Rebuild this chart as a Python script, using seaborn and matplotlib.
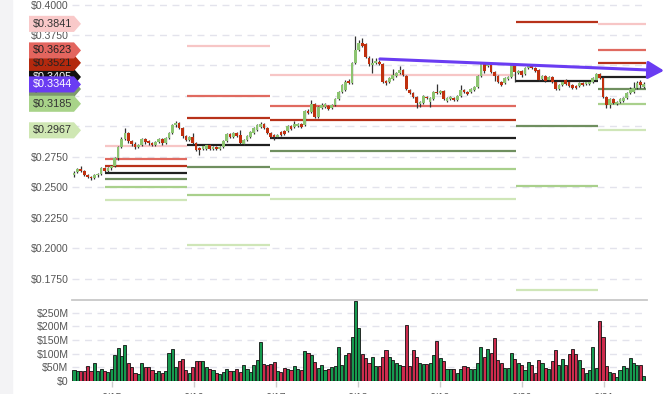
import numpy as np
import pandas as pd
import matplotlib
matplotlib.use("Agg")
import matplotlib.pyplot as plt
import matplotlib.transforms as mtrans
from matplotlib.patches import Polygon, Rectangle
import seaborn as sns

# hourly candles, prices in USD
opens = [
    .2600, .2625, .2650, .2633, .2600, .2584, .2576, .2600, .2608, .2658,
    .2633, .2658, .2674, .2740, .2830, .2896, .2945, .2879, .2855, .2830,
    .2847, .2896, .2879, .2863, .2847, .2871, .2896, .2863, .2904, .2945,
    .3011, .3027, .2986, .2920, .2888, .2912, .2863, .2822, .2814, .2814,
    .2847, .2814, .2830, .2814, .2830, .2879, .2937, .2912, .2945, .2929,
    .2855, .2888, .2912, .2945, .2970, .2994, .3019, .2986, .2945, .2929,
    .2912, .2953, .2962, .2962, .3003, .2994, .3003, .3019, .3011, .3126,
    .3118, .3183, .3076, .3150, .3159, .3167, .3150, .3175, .3224, .3282,
    .3298, .3372, .3356, .3520, .3627, .3684, .3676, .3561, .3503, .3520,
    .3528, .3512, .3372, .3364, .3388, .3413, .3438, .3462, .3413, .3298,
    .3274, .3241, .3183, .3191, .3241, .3200, .3224, .3282, .3274, .3290,
    .3208, .3224, .3232, .3216, .3249, .3298, .3282, .3282, .3298, .3323,
    .3413, .3520, .3495, .3512, .3446, .3413, .3364, .3356, .3388, .3405,
    .3503, .3438, .3454, .3429, .3479, .3503, .3479, .3462, .3388, .3413,
    .3380, .3405, .3364, .3306, .3339, .3380, .3364, .3339, .3331, .3331,
    .3356, .3347, .3347, .3364, .3380, .3429, .3397, .3241, .3175, .3224,
    .3183, .3200, .3208, .3232, .3274, .3282, .3315, .3364, .3323,
]
closes = [
    .2619, .2650, .2633, .2600, .2584, .2576, .2600, .2608, .2658, .2633,
    .2658, .2674, .2740, .2830, .2896, .2945, .2879, .2855, .2830, .2847,
    .2896, .2871, .2863, .2847, .2871, .2896, .2863, .2904, .2945, .3011,
    .3027, .2986, .2920, .2888, .2912, .2863, .2806, .2806, .2838, .2847,
    .2814, .2830, .2814, .2830, .2879, .2937, .2912, .2945, .2920, .2863,
    .2888, .2920, .2953, .2986, .3011, .3019, .2986, .2945, .2912, .2912,
    .2929, .2929, .2937, .3003, .2978, .3019, .3019, .2994, .3126, .3109,
    .3183, .3076, .3159, .3175, .3183, .3142, .3175, .3224, .3282, .3339,
    .3364, .3356, .3520, .3627, .3684, .3659, .3569, .3512, .3520, .3536,
    .3512, .3364, .3356, .3397, .3421, .3438, .3462, .3421, .3306, .3274,
    .3241, .3191, .3200, .3249, .3232, .3232, .3282, .3274, .3290, .3224,
    .3232, .3241, .3216, .3249, .3298, .3282, .3265, .3306, .3323, .3413,
    .3520, .3454, .3520, .3446, .3413, .3364, .3339, .3397, .3405, .3503,
    .3446, .3454, .3421, .3479, .3495, .3479, .3454, .3380, .3413, .3372,
    .3405, .3364, .3306, .3339, .3364, .3347, .3331, .3315, .3315, .3356,
    .3339, .3364, .3364, .3397, .3429, .3397, .3241, .3175, .3224, .3191,
    .3200, .3224, .3232, .3274, .3306, .3315, .3356, .3339, .3344,
]
highs = [
    .2633, .2658, .2674, .2641, .2608, .2592, .2608, .2617, .2666, .2666,
    .2666, .2682, .2748, .2838, .2912, .2986, .2953, .2888, .2871, .2855,
    .2904, .2904, .2888, .2871, .2879, .2904, .2904, .2912, .2953, .3019,
    .3044, .3035, .2994, .2929, .2920, .2945, .2871, .2830, .2847, .2855,
    .2855, .2838, .2838, .2838, .2888, .2945, .2945, .2953, .2953, .2970,
    .2896, .2929, .2962, .2994, .3019, .3035, .3027, .2994, .2953, .2937,
    .2937, .2962, .2970, .3011, .3011, .3044, .3027, .3027, .3134, .3142,
    .3216, .3191, .3167, .3191, .3191, .3175, .3183, .3232, .3290, .3347,
    .3380, .3388, .3528, .3741, .3709, .3725, .3684, .3577, .3561, .3561,
    .3544, .3520, .3380, .3405, .3471, .3446, .3495, .3471, .3421, .3306,
    .3282, .3249, .3208, .3257, .3249, .3241, .3290, .3347, .3298, .3298,
    .3241, .3249, .3241, .3257, .3339, .3306, .3290, .3315, .3331, .3421,
    .3528, .3528, .3528, .3520, .3454, .3421, .3372, .3405, .3413, .3512,
    .3512, .3462, .3462, .3487, .3503, .3512, .3487, .3471, .3421, .3421,
    .3413, .3413, .3372, .3347, .3372, .3388, .3372, .3347, .3339, .3364,
    .3364, .3372, .3372, .3405, .3438, .3438, .3405, .3249, .3232, .3232,
    .3208, .3232, .3241, .3282, .3323, .3364, .3372, .3380, .3364,
]
lows = [
    .2584, .2617, .2625, .2592, .2576, .2559, .2567, .2584, .2600, .2625,
    .2625, .2641, .2666, .2723, .2822, .2888, .2863, .2838, .2814, .2822,
    .2838, .2855, .2847, .2838, .2838, .2863, .2847, .2855, .2896, .2937,
    .2994, .2978, .2904, .2879, .2879, .2855, .2797, .2764, .2806, .2806,
    .2806, .2806, .2806, .2806, .2822, .2871, .2904, .2904, .2912, .2855,
    .2847, .2879, .2904, .2937, .2962, .2986, .2978, .2937, .2904, .2888,
    .2904, .2920, .2929, .2953, .2970, .2986, .2994, .2986, .3003, .3101,
    .3109, .3068, .3068, .3142, .3150, .3134, .3142, .3167, .3216, .3274,
    .3290, .3347, .3347, .3512, .3618, .3651, .3561, .3495, .3438, .3512,
    .3503, .3356, .3339, .3356, .3380, .3405, .3429, .3413, .3298, .3265,
    .3232, .3150, .3159, .3183, .3224, .3159, .3216, .3265, .3265, .3216,
    .3200, .3216, .3208, .3208, .3241, .3274, .3257, .3274, .3290, .3315,
    .3405, .3438, .3487, .3438, .3372, .3356, .3331, .3347, .3380, .3397,
    .3364, .3429, .3405, .3421, .3471, .3471, .3446, .3372, .3380, .3364,
    .3372, .3356, .3298, .3298, .3331, .3339, .3323, .3306, .3306, .3323,
    .3331, .3339, .3339, .3356, .3372, .3388, .3232, .3150, .3150, .3183,
    .3175, .3191, .3200, .3224, .3265, .3274, .3306, .3315, .3315,
]
# volume in millions of USD
volumes = [
    39, 34, 34, 34, 54, 34, 64, 34, 42, 35,
    32, 44, 93, 119, 92, 130, 64, 51, 29, 23,
    66, 49, 52, 39, 29, 37, 29, 34, 101, 115,
    51, 74, 79, 39, 29, 49, 71, 71, 71, 49,
    42, 39, 27, 23, 31, 42, 35, 37, 42, 31,
    57, 42, 31, 57, 75, 141, 60, 57, 63, 69,
    34, 31, 46, 42, 39, 53, 43, 39, 108, 101,
    93, 69, 46, 57, 39, 42, 49, 53, 125, 57,
    96, 101, 162, 294, 193, 97, 82, 64, 86, 53,
    53, 86, 112, 86, 75, 64, 57, 53, 204, 53,
    112, 86, 66, 60, 60, 66, 93, 145, 82, 71,
    42, 42, 42, 29, 42, 53, 49, 42, 42, 64,
    125, 86, 115, 101, 156, 75, 64, 46, 46, 101,
    79, 64, 57, 39, 69, 57, 27, 75, 64, 46,
    42, 71, 112, 57, 79, 57, 97, 115, 97, 75,
    46, 27, 39, 125, 46, 218, 160, 53, 32, 27,
    12, 39, 53, 46, 82, 64, 57, 57, 18,
]

# pivot levels per period (start, end in candle index)
seg_start = [9.1, 33.3, 57.8, 130.3, 154.5]
seg_end = [33.3, 57.8, 130.3, 154.5, 168.7]
r3 = [0.2841, 0.3662, 0.3419, np.nan, 0.3841]
r2 = [0.2732, 0.3251, 0.3165, np.nan, 0.3623]
r1 = [0.2677, 0.3068, 0.3052, 0.3860, 0.3521]
pp = [0.2619, 0.2844, 0.2906, 0.3374, 0.3405]
s1 = [0.2565, 0.2663, 0.2796, 0.3002, 0.3306]
s2 = [0.2504, 0.2437, 0.2652, 0.2510, 0.3185]
s3 = [0.2395, 0.2026, 0.2403, 0.1656, 0.2967]

trend_x = [90.2, 174.0]
trend_y = [0.3553, 0.3457]
last_price = 0.3344

tick_pos = [11.2, 35.4, 59.6, 83.8, 107.9, 132.1, 156.3]
tick_labels = ["6/15", "6/16", "6/17", "6/18", "6/19", "6/20", "6/21"]

sns.set_theme(style="white")
plt.rcParams["font.family"] = ["Liberation Sans", "DejaVu Sans"]

W, H = 664, 394
fig = plt.figure(figsize=(W / 100, H / 100), dpi=100)
fig.patches.append(Rectangle((0, 0), 12 / W, 1, transform=fig.transFigure,
                             color="#f3f3f5", zorder=0))

ax = fig.add_axes([72 / W, 95 / H, 575 / W, 299 / H])
vax = fig.add_axes([72 / W, 13 / H, 575 / W, 81 / H])

idx = np.arange(len(closes))
o = np.array(opens); c = np.array(closes)
up = c >= o
GRID = "#e3e3ec"
TXT = "#555555"

# --- price panel
ax.set_xlim(-0.59, 168.97)
ax.set_ylim(0.1582, 0.4037)
yt = np.arange(0.175, 0.40001, 0.025)
ax.set_yticks(yt)
# the labels at 0.30-0.35 sit under the price tags
ax.set_yticklabels(["" if 0.29 < v < 0.36 else f"${v:.4f}" for v in yt])
for v in yt:
    ax.axhline(v, color=GRID, lw=1, dashes=(5, 4), zorder=0)
ax.set_xticks([])
ax.tick_params(axis="y", length=0, pad=2.5, labelsize=7.6, labelcolor=TXT)
for s in ax.spines.values():
    s.set_visible(False)

level_cols = ["#f7c6c6", "#e06a60", "#b8321a", "#202020", "#6f8f5f", "#a9d08c", "#cfe6b8"]
for lv, col in zip([r3, r2, r1, pp, s1, s2, s3], level_cols):
    for a, b, v in zip(seg_start, seg_end, lv):
        if not np.isnan(v):
            ax.hlines(v, a, b, color=col, lw=1.6, zorder=1)

ax.vlines(idx, lows, highs, color="#333333", lw=0.9, zorder=2)
body_low = np.minimum(o, c)
body_h = np.maximum(np.abs(c - o), 0.0007)
ax.bar(idx, body_h, bottom=body_low, width=0.8,
       color=np.where(up, "#8cc470", "#c0300f"), linewidth=0, zorder=3)

ann = ax.annotate("", xy=(trend_x[1], trend_y[1]), xytext=(trend_x[0], trend_y[0]),
                  arrowprops=dict(arrowstyle="-|>,head_width=0.45,head_length=0.8",
                                  color="#6a3cf2", lw=2.2, shrinkA=0, shrinkB=0),
                  annotation_clip=False, zorder=6)
ann.arrow_patch.set_clip_on(False)

# price tags on the left
tr = mtrans.blended_transform_factory(fig.transFigure, ax.transData)
hh = 0.0066
tags = [
    (r3[-1], "#f9c9c9", "#333333"),
    (pp[-1], "#111111", "#ffffff"),
    (s1[-1], "#7d9a6c", "#333333"),
    (r1[-1], "#b3290e", "#222222"),
    (r2[-1], "#e3655e", "#222222"),
    (s2[-1], "#a8d389", "#333333"),
    (s3[-1], "#cfe7b3", "#333333"),
    (last_price, "#6a3cf2", "#ffffff"),
]
for k, (v, fc, tc) in enumerate(tags):
    x0, x1, x2 = 29 / W, 74 / W, 81 / W
    poly = Polygon([(x0, v - hh), (x1, v - hh), (x2, v), (x1, v + hh), (x0, v + hh)],
                   closed=True, transform=tr, facecolor=fc, edgecolor="none",
                   clip_on=False, zorder=10 + 2 * k)
    ax.add_patch(poly)
    ax.text(33 / W, v, f"${v:.4f}", transform=tr, ha="left", va="center",
            fontsize=7.8, color=tc, clip_on=False, zorder=11 + 2 * k)

# --- volume panel
df = pd.DataFrame({"idx": idx, "vol": np.array(volumes) * 1e6,
                   "dir": np.where(up, "up", "down")})
sns.barplot(data=df, x="idx", y="vol", hue="dir", native_scale=True, dodge=False,
            palette={"up": "#00b04c", "down": "#e8103e"}, width=0.92,
            edgecolor="#111111", linewidth=0.6, errorbar=None, legend=False,
            ax=vax, zorder=2)
vax.set_xlim(-0.59, 168.97)
vax.set_ylim(-1.1e6, 296.7e6)
vt = np.arange(0, 250e6 + 1, 50e6)
vax.set_yticks(vt)
vax.set_yticklabels(["$0"] + [f"${v / 1e6:.0f}M" for v in vt[1:]])
for v in vt[1:]:
    vax.axhline(v, color=GRID, lw=1, dashes=(5, 4), zorder=0)
vax.set_xticks(tick_pos)
vax.set_xticklabels(tick_labels)
vax.set_xlabel("")
vax.set_ylabel("")
vax.tick_params(axis="y", length=0, pad=2.5, labelsize=7.6, labelcolor=TXT)
vax.tick_params(axis="x", length=4, width=1, color="#cccccc", pad=4.5,
                labelsize=7.6, labelcolor=TXT, bottom=True)
for name, s in vax.spines.items():
    s.set_visible(name == "top")
vax.spines["top"].set_color("#c8c8c8")
vax.spines["top"].set_linewidth(1.3)

fig.savefig("out.png", dpi=100)
